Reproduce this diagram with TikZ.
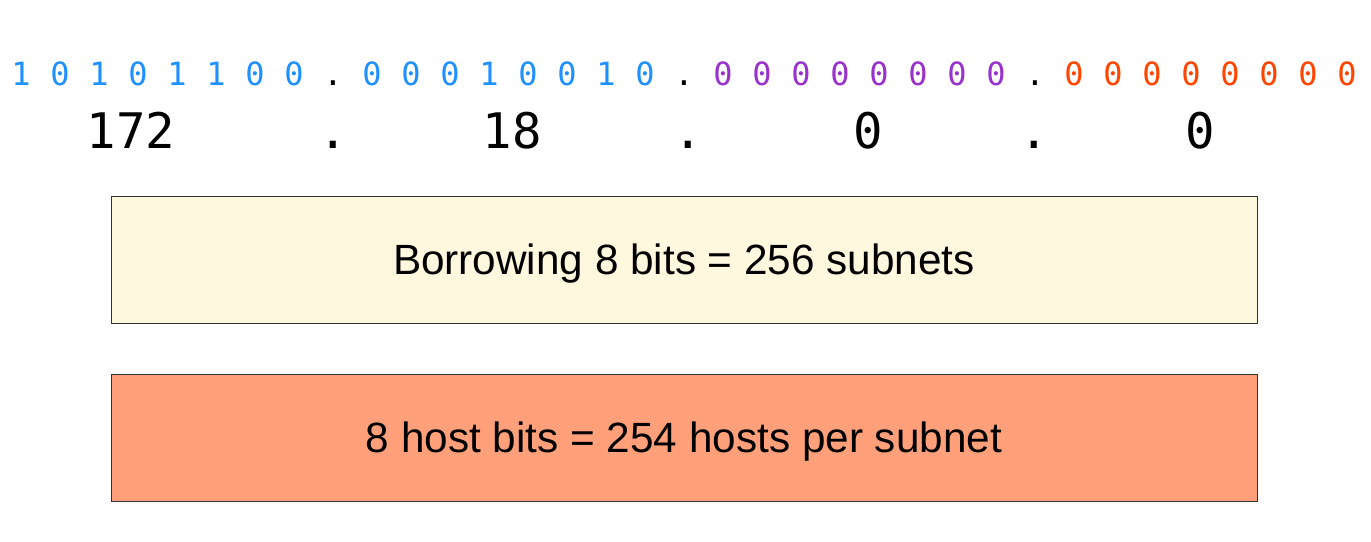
\documentclass[tikz,border=0pt]{standalone}
\usepackage{fontspec}
\setmainfont{Liberation Sans}
\setmonofont{DejaVu Sans Mono}
\usepackage{xcolor}
\usetikzlibrary{positioning}

\definecolor{bleu}{HTML}{1E90FF}
\definecolor{violet}{HTML}{9932CC}
\definecolor{orange}{HTML}{FF4500}
\definecolor{jaune}{HTML}{FFF7DE}
\definecolor{saumon}{HTML}{FFA07A}
\definecolor{bord}{HTML}{333333}

\begin{document}
\begin{tikzpicture}[x=1pt, y=-1pt,
    bit/.style={anchor=base, inner sep=0pt, font=\ttfamily\fontsize{32}{32}\selectfont},
    octet/.style={anchor=base, inner sep=0pt, font=\ttfamily\fontsize{49}{49}\selectfont},
    boite/.style={draw=bord, line width=1pt, inner sep=0pt, minimum width=1146pt,
                  minimum height=127pt, text height=30.3pt, text depth=0pt,
                  font=\fontsize{42.3}{42.3}\selectfont}]

        \useasboundingbox (0,0) rectangle (1371,541);

        % Bits (binaire)
        \foreach \oct/\bits/\col in {0/{1,0,1,0,1,1,0,0}/bleu, 1/{0,0,0,1,0,0,1,0}/bleu,
                                     2/{0,0,0,0,0,0,0,0}/violet, 3/{0,0,0,0,0,0,0,0}/orange} {
            \foreach \b [count=\k from 0] in \bits {
                \node [bit, text=\col] (b\oct\k) at ({21+39*(9*\oct+\k)}, 85) {\b};
            }
        }
        \foreach \oct in {1,2,3} {
            \node [bit] (p\oct) at ({21+39*(9*\oct-1)}, 85) {.};
        }

        % Octets (decimal)
        \node [octet] (o1) at (131, 148) {172};
        \node [octet] (d1) at (333, 148) {.};
        \node [octet] (o2) at (512, 148) {18};
        \node [octet] (d2) at (688, 148) {.};
        \node [octet] (o3) at (868, 148) {0};
        \node [octet] (d3) at (1034, 148) {.};
        \node [octet] (o4) at (1200, 148) {0};

        % Boites
        \node [boite, fill=jaune] (emprunt) at (684, 259.5) {Borrowing 8 bits = 256 subnets};
        \node [boite, fill=saumon] (hotes) at (684, 437.5) {8 host bits = 254 hosts per subnet};

    \end{tikzpicture}
\end{document}
